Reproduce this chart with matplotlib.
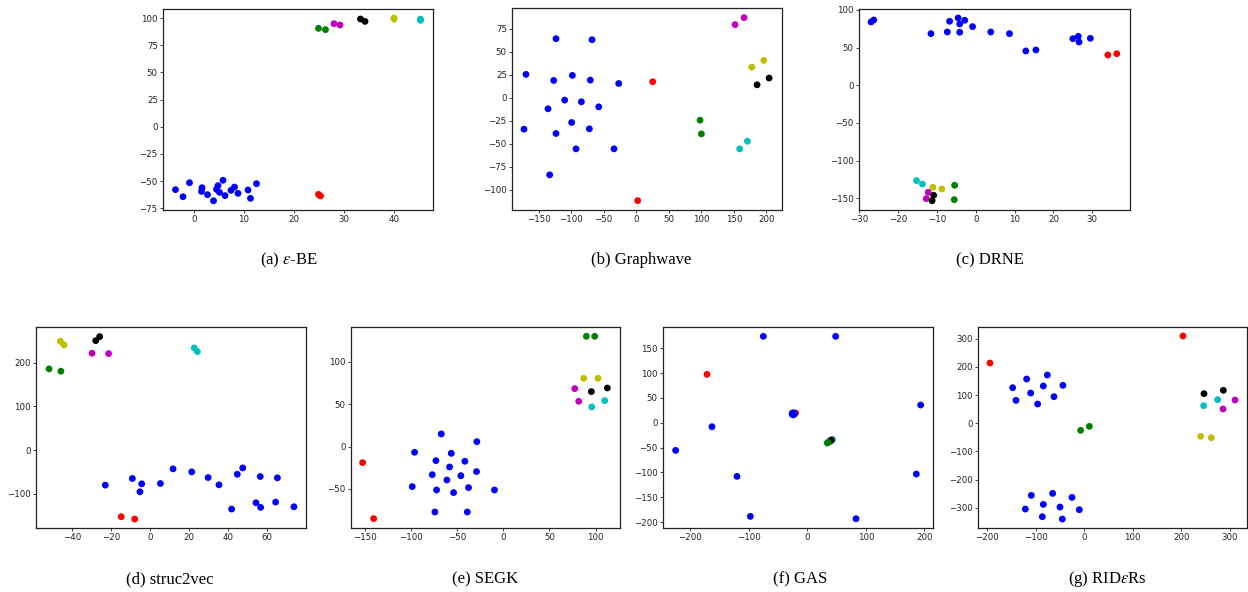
import matplotlib
matplotlib.use("Agg")
import matplotlib.pyplot as plt

plt.rcParams['mathtext.fontset'] = 'stix'

# node roles: 2 red, 2 cyan, 2 magenta, 2 yellow, 2 black, 2 green, then 18 blue
colors = ['r', 'r', 'c', 'c', 'm', 'm', 'y', 'y', 'k', 'k', 'g', 'g'] + ['b'] * 18

# (a) eps-BE
a_x = [24.9, 25.3, 45.3, 45.3, 28.0, 29.2, 40.0, 40.0, 33.3, 34.2, 24.9, 26.3,
       -3.7, -2.2, -0.9, 1.6, 1.5, 2.7, 3.9, 4.5, 4.8, 5.1, 5.8, 6.2, 7.4, 8.1, 8.8, 10.8, 11.3, 12.5]
a_y = [-62.1, -63.6, 99.0, 97.9, 94.8, 93.6, 100.0, 99.0, 99.1, 96.9, 90.5, 89.3,
       -57.8, -64.3, -51.4, -56.0, -59.4, -62.4, -68.0, -57.5, -54.1, -60.3, -49.2, -63.3,
       -58.4, -55.4, -61.2, -58.1, -65.8, -52.3]

# (b) Graphwave
b_x = [25.3, 2.2, 159.0, 170.9, 151.9, 165.7, 177.5, 196.0, 185.7, 204.2, 98.1, 100.1,
       -123.4, -68.0, -169.5, -126.9, -98.2, -70.6, -27.0, -110.0, -84.4, -135.6, -57.7,
       -99.3, -172.6, -72.1, -123.4, -92.6, -34.2, -133.1]
b_y = [17.3, -112.0, -55.7, -47.4, 79.4, 87.0, 33.2, 40.5, 14.0, 21.3, -24.5, -39.4,
       64.1, 63.0, 25.3, 18.7, 24.2, 19.1, 15.4, -2.7, -4.5, -12.1, -10.0, -27.0, -34.3,
       -33.9, -39.0, -55.7, -55.7, -84.0]

# (c) DRNE
c_x = [34.0, 36.3, -15.2, -13.7, -12.2, -12.7, -11.0, -8.7, -10.8, -11.2, -5.4, -5.5,
       -26.9, -26.2, -11.5, -6.7, -7.3, -4.5, -4.1, -4.1, -2.8, -0.8, 3.9, 8.7, 12.9, 15.5,
       25.0, 26.4, 26.6, 29.5]
c_y = [40.3, 42.0, -126.5, -131.0, -142.0, -150.4, -135.4, -137.6, -146.0, -153.1, -132.7, -151.8,
       84.1, 86.7, 68.6, 85.0, 70.8, 89.4, 81.4, 70.4, 86.3, 77.9, 70.8, 68.6, 45.6, 46.9,
       61.9, 65.0, 57.5, 62.4]

# (d) struc2vec
d_x = [-14.7, -7.8, 22.8, 24.4, -29.7, -21.2, -46.0, -44.1, -27.8, -25.8, -51.8, -45.7,
       -22.9, -9.0, -4.2, -5.1, 5.4, 11.9, 21.5, 29.9, 35.5, 42.0, 44.9, 47.7, 54.5, 56.7,
       56.9, 64.6, 65.5, 74.0]
d_y = [-152.4, -157.7, 233.4, 225.1, 221.3, 220.5, 248.6, 240.3, 250.1, 259.2, 185.6, 180.3,
       -80.2, -65.0, -77.2, -95.4, -76.5, -43.0, -49.9, -62.8, -79.5, -134.9, -55.4, -40.8,
       -120.5, -60.5, -131.1, -119.0, -63.5, -129.6]

# (e) SEGK
e_x = [-152.2, -140.3, 95.7, 109.7, 77.3, 81.6, 87.0, 102.5, 95.3, 112.6, 89.9, 98.9,
       -67.1, -28.6, -96.0, -56.3, -72.9, -41.6, -58.1, -76.9, -45.9, -29.0, -61.0, -98.5,
       -37.6, -72.2, -53.8, -9.5, -74.0, -39.0]
e_y = [-18.9, -85.0, 46.9, 54.3, 68.5, 53.5, 80.7, 80.7, 65.0, 69.3, 130.3, 130.3,
       15.0, 5.9, -6.7, -7.9, -16.5, -17.3, -24.0, -33.1, -34.3, -29.5, -39.4, -47.2,
       -48.4, -51.2, -54.3, -51.2, -77.2, -77.2]

# (f) GAS
f_x = [-171.5, -20.0, 43.0, 42.0, 37.5, 38.5, 39.5, 40.5, 40.0, 41.0, 34.2, 35.5,
       -75.2, 48.4, -225.1, -163.0, -120.2, -97.4, 83.2, 186.3, 193.7, -26.0,
       -23.0, -25.0, -22.5, -24.0, -25.5, -23.5, -24.5, -23.8]
f_y = [97.6, 19.7, -33.4, -34.5, -38.0, -37.0, -36.5, -35.5, -36.0, -35.0, -40.8, -39.5,
       174.2, 174.2, -55.6, -7.9, -108.0, -188.6, -193.3, -103.3, 35.8, 17.0,
       19.5, 20.0, 17.5, 16.0, 19.0, 17.0, 18.3, 19.0]

# (g) RIDeRs
g_x = [-193.8, 203.8, 246.4, 275.3, 286.3, 311.0, 240.2, 262.2, 247.1, 287.0, -7.0, 10.9,
       -147.1, -140.2, -118.3, -110.0, -75.7, -83.9, -95.6, -62.0, -43.5, -108.7, -64.7,
       -24.9, -121.0, -83.9, -49.6, -9.8, -86.0, -44.8]
g_y = [213.6, 309.5, 62.1, 83.4, 50.3, 82.2, -46.7, -51.5, 104.7, 116.6, -25.4, -11.2,
       126.0, 81.0, 156.8, 107.0, 171.0, 132.0, 68.0, 94.1, 134.3, -256.2, -249.1,
       -263.3, -304.7, -288.2, -297.6, -307.1, -332.0, -340.2]

captions = ['(a) $\\varepsilon$-BE', '(b) Graphwave', '(c) DRNE', '(d) struc2vec',
            '(e) SEGK', '(f) GAS', '(g) RID$\\varepsilon$Rs']

W, H = 1248, 592
fig = plt.figure(figsize=(W / 100, H / 100), dpi=100)

# panel boxes in pixels: left, top, right, bottom
boxes = [(163, 9, 433, 210), (512, 8, 782, 210), (859, 9, 1130, 210),
         (36, 327, 306, 528), (351, 327, 620, 528), (663, 327, 933, 528), (978, 327, 1247, 528)]
limits = [((-6.2, 47.8), (-76.5, 108.3)),
          ((-191, 224), (-122.2, 97.5)),
          ((-30, 39.7), (-165.5, 101.3)),
          ((-58.5, 80.2), (-178.2, 281.3)),
          ((-164.8, 126.3), (-96.1, 141.3)),
          ((-246.7, 214.8), (-212, 193)),
          ((-218.5, 335.7), (-372, 341.4))]
xticks = [[0, 10, 20, 30, 40], [-150, -100, -50, 0, 50, 100, 150, 200],
          [-30, -20, -10, 0, 10, 20, 30], [-40, -20, 0, 20, 40, 60],
          [-150, -100, -50, 0, 50, 100], [-200, -100, 0, 100, 200],
          [-200, -100, 0, 100, 200, 300]]
yticks = [[-75, -50, -25, 0, 25, 50, 75, 100], [-100, -75, -50, -25, 0, 25, 50, 75],
          [-150, -100, -50, 0, 50, 100], [-100, 0, 100, 200],
          [-50, 0, 50, 100], [-200, -150, -100, -50, 0, 50, 100, 150],
          [-300, -200, -100, 0, 100, 200, 300]]
cap_pos = [(289, 260), (641, 260), (990, 260), (170, 579), (485, 579), (800, 579), (1107, 579)]

data = [(a_x, a_y), (b_x, b_y), (c_x, c_y), (d_x, d_y), (e_x, e_y), (f_x, f_y), (g_x, g_y)]

for i, (xs, ys) in enumerate(data):
    l, t, r, b = boxes[i]
    ax = fig.add_axes([l / W, 1 - b / H, (r - l) / W, (b - t) / H])
    ax.scatter(xs, ys, c=colors, s=24, linewidths=0)
    ax.set_xlim(limits[i][0])
    ax.set_ylim(limits[i][1])
    ax.set_xticks(xticks[i])
    ax.set_yticks(yticks[i])
    ax.tick_params(labelsize=6.2, length=2.2, width=0.6, pad=1.5, colors='#222222')
    for sp in ax.spines.values():
        sp.set_linewidth(0.9)
        sp.set_color('#222222')
    cx, cy = cap_pos[i]
    fig.text(cx / W, 1 - cy / H, captions[i], ha='center', va='center',
             family='Liberation Serif', fontsize=12)

fig.savefig('out.png', dpi=100)
